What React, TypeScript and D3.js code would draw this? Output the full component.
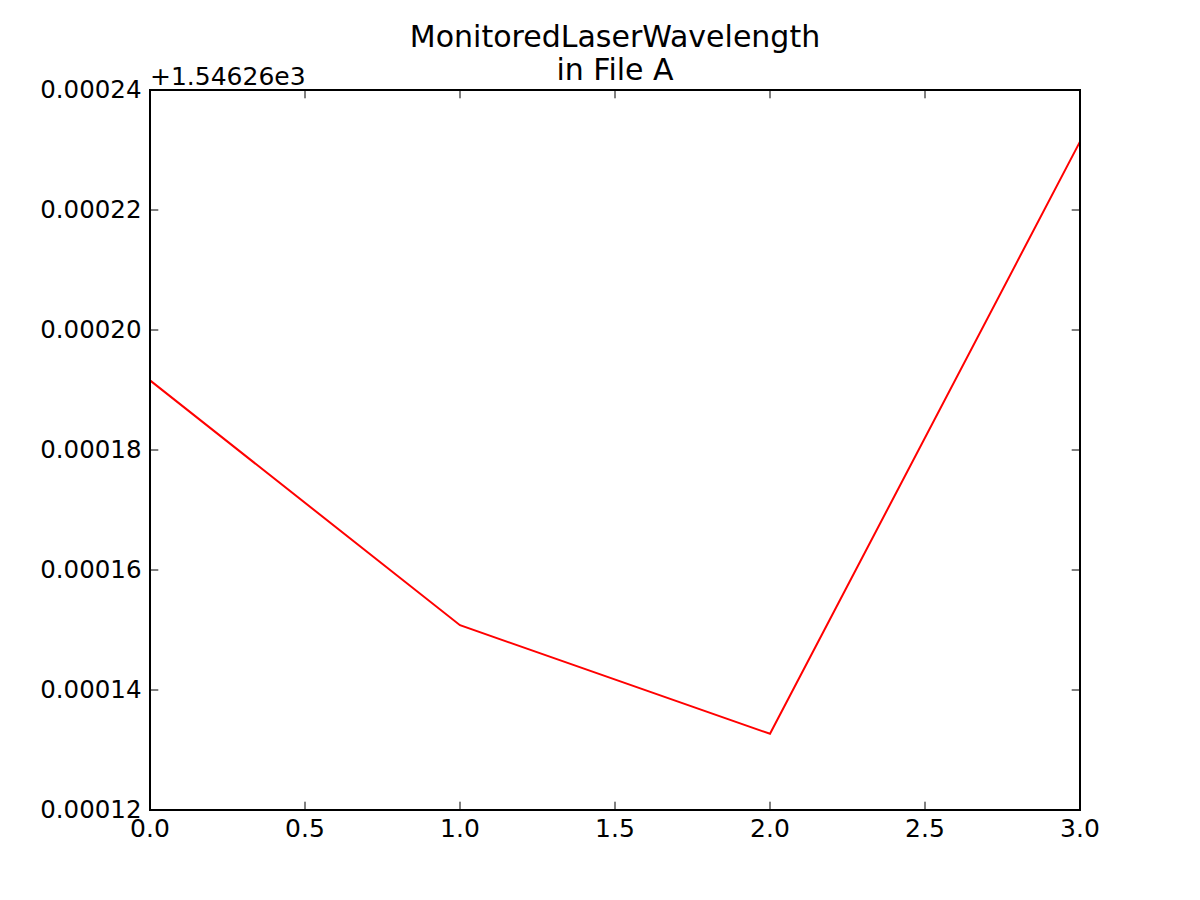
import React from 'react';
import * as d3 from 'd3';

// x positions (sample index) and monitored wavelength minus offset 1546.26
const xValues = [0, 1, 2, 3];
const yValues = [0.0001916, 0.0001508, 0.0001327, 0.0002314];
const xTicks = [0, 0.5, 1, 1.5, 2, 2.5, 3];
const yTicks = [0.00012, 0.00014, 0.00016, 0.00018, 0.0002, 0.00022, 0.00024];
const offsetLabel = '+1.54626e3';
const titleLines = ['MonitoredLaserWavelength', 'in File A'];

const W = 1200;
const H = 900;
const left = 150, right = 1080, top = 90, bottom = 810;
const FONT = 'DejaVu Sans, sans-serif';

export default function App() {
  const x = d3.scaleLinear().domain([0, 3]).range([left, right]);
  const y = d3.scaleLinear().domain([0.00012, 0.00024]).range([bottom, top]);
  const line = d3.line<number>()
    .x((_, i) => x(xValues[i]))
    .y(d => y(d));
  const tl = 8.3;

  return (
    <svg width={W} height={H} style={{ position: 'absolute', left: 0, top: 0, background: '#fff' }}>
      <rect width={W} height={H} fill="#fff" />
      <path d={line(yValues) || ''} fill="none" stroke="#ff0000" strokeWidth={2} />
      <rect x={left} y={top} width={right - left} height={bottom - top} fill="none" stroke="#000" strokeWidth={2} />
      {xTicks.map(t => (
        <g key={'x' + t}>
          <line x1={x(t)} x2={x(t)} y1={bottom} y2={bottom - tl} stroke="#000" strokeWidth={1} />
          <line x1={x(t)} x2={x(t)} y1={top} y2={top + tl} stroke="#000" strokeWidth={1} />
          <text x={x(t)} y={bottom + 26.5} textAnchor="middle" fontFamily={FONT} fontSize={25}>{t.toFixed(1)}</text>
        </g>
      ))}
      {yTicks.map(t => (
        <g key={'y' + t}>
          <line x1={left} x2={left + tl} y1={y(t)} y2={y(t)} stroke="#000" strokeWidth={1} />
          <line x1={right} x2={right - tl} y1={y(t)} y2={y(t)} stroke="#000" strokeWidth={1} />
          <text x={left - 8.5} y={y(t) + 7.5} textAnchor="end" fontFamily={FONT} fontSize={24.5}>{t.toFixed(5)}</text>
        </g>
      ))}
      <text x={left} y={top - 5} fontFamily={FONT} fontSize={25}>{offsetLabel}</text>
      {titleLines.map((s, i) => (
        <text key={s} x={(left + right) / 2} y={46.5 + i * 33.5} textAnchor="middle" fontFamily={FONT} fontSize={30}>{s}</text>
      ))}
    </svg>
  );
}
